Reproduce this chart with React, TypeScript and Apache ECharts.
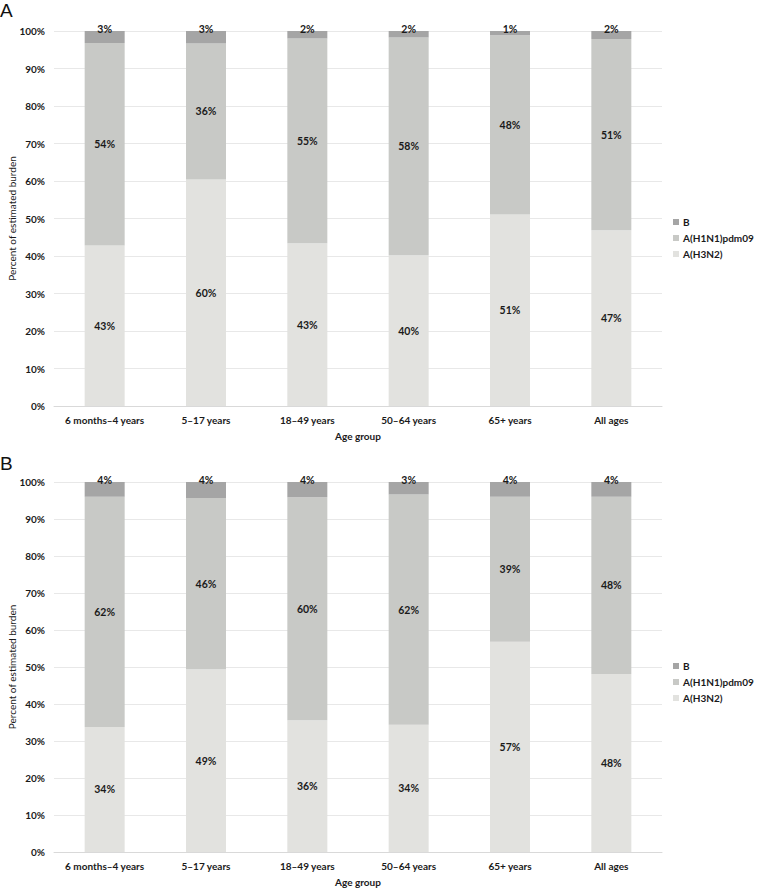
import React, { useEffect, useRef } from "react";
import * as echarts from "echarts";

const categories = ["6 months–4 years", "5–17 years", "18–49 years", "50–64 years", "65+ years", "All ages"];
const seriesNames = ["A(H3N2)", "A(H1N1)pdm09", "B"];
const yTicks = [0, 10, 20, 30, 40, 50, 60, 70, 80, 90, 100];

// Panel A
const aH3N2 = [42.8, 60.4, 43.4, 40.2, 51.1, 46.9];
const aH1N1 = [54.0, 36.3, 54.6, 58.1, 47.8, 51.0];
const aB = [3.2, 3.3, 2.0, 1.7, 1.1, 2.1];

// Panel B
const bH3N2 = [33.8, 49.4, 35.6, 34.4, 56.8, 48.1];
const bH1N1 = [62.2, 46.3, 60.3, 62.2, 39.2, 47.9];
const bB = [4.0, 4.3, 4.1, 3.4, 4.0, 4.0];

const colors = ["#e2e2df", "#c8c9c6", "#a5a5a5"];
const FONT = "Lato, 'Noto Sans', sans-serif";
const TEXT = "#1a1a1a";

export default function App() {
  const ref = useRef<HTMLDivElement>(null);
  useEffect(() => {
    document.body.style.margin = "0";
    const chart = echarts.init(ref.current!, null, { renderer: "svg" });
    const fmt = (p: any) => Math.round(p.value) + "%";
    const mkSeries = (name: string, data: number[], idx: number, panel: number) => {
      const isTop = idx === 2;
      return {
        type: "bar",
        name,
        stack: "s" + panel,
        xAxisIndex: panel,
        yAxisIndex: panel,
        barWidth: 40,
        data,
        itemStyle: { color: colors[idx] },
        label: isTop
          ? {
              show: true,
              position: ["50%", -2],
              align: "center",
              verticalAlign: "middle",
              formatter: fmt,
              fontFamily: FONT,
              fontSize: 10.5,
              fontWeight: "bold",
              color: TEXT,
            }
          : {
              show: true,
              position: "inside",
              formatter: fmt,
              fontFamily: FONT,
              fontSize: 10.5,
              fontWeight: "bold",
              color: TEXT,
            },
      };
    };
    const xAxis = (gridIndex: number) => ({
      type: "category",
      gridIndex,
      data: categories,
      name: "Age group",
      nameLocation: "middle",
      nameGap: 25,
      nameMoveOverlap: false,
      nameTextStyle: { fontFamily: FONT, fontSize: 10, fontWeight: "bold", color: TEXT },
      axisLine: { lineStyle: { color: "#d9d9d9" } },
      axisTick: { show: false },
      axisLabel: { fontFamily: FONT, fontSize: 10, fontWeight: "bold", color: TEXT, margin: 9, interval: 0 },
    });
    const yAxis = (gridIndex: number) => ({
      type: "value",
      gridIndex,
      min: yTicks[0],
      max: yTicks[yTicks.length - 1],
      interval: 10,
      name: "Percent of estimated burden",
      nameLocation: "middle",
      nameGap: 37,
      nameMoveOverlap: false,
      nameTextStyle: { fontFamily: FONT, fontSize: 10, color: TEXT },
      axisLine: { show: false },
      axisTick: { show: false },
      axisLabel: { fontFamily: FONT, fontSize: 10, fontWeight: "bold", color: TEXT, margin: 9, formatter: "{value}%" },
      splitLine: { lineStyle: { color: "#e8e8e8" } },
    });
    const legend = (top: number) => ({
      orient: "vertical",
      left: 668,
      top,
      itemWidth: 6,
      itemHeight: 6,
      itemGap: 6,
      icon: "rect",
      data: ["B", "A(H1N1)pdm09", "A(H3N2)"],
      textStyle: { fontFamily: FONT, fontSize: 10, fontWeight: "bold", color: TEXT, padding: [0, 0, 0, -1] },
    });
    const titleStyle = { fontFamily: "'Liberation Sans', Arial, sans-serif", fontSize: 19, fontWeight: "normal", color: "#111" };
    chart.setOption({
      animation: false,
      title: [
        { text: "A", left: 0, top: 1, padding: 0, textStyle: titleStyle },
        { text: "B", left: 0, top: 454, padding: 0, textStyle: titleStyle },
      ],
      legend: [legend(212), legend(656)],
      grid: [
        { left: 54, right: 95, top: 31, bottom: 483, outerBoundsMode: "none", containLabel: false },
        { left: 54, right: 95, top: 482, bottom: 37, outerBoundsMode: "none", containLabel: false },
      ],
      xAxis: [xAxis(0), xAxis(1)],
      yAxis: [yAxis(0), yAxis(1)],
      series: [
        mkSeries(seriesNames[0], aH3N2, 0, 0),
        mkSeries(seriesNames[1], aH1N1, 1, 0),
        mkSeries(seriesNames[2], aB, 2, 0),
        mkSeries(seriesNames[0], bH3N2, 0, 1),
        mkSeries(seriesNames[1], bH1N1, 1, 1),
        mkSeries(seriesNames[2], bB, 2, 1),
      ],
    });
    return () => chart.dispose();
  }, []);
  return <div ref={ref} style={{ width: 757, height: 889 }} />;
}
